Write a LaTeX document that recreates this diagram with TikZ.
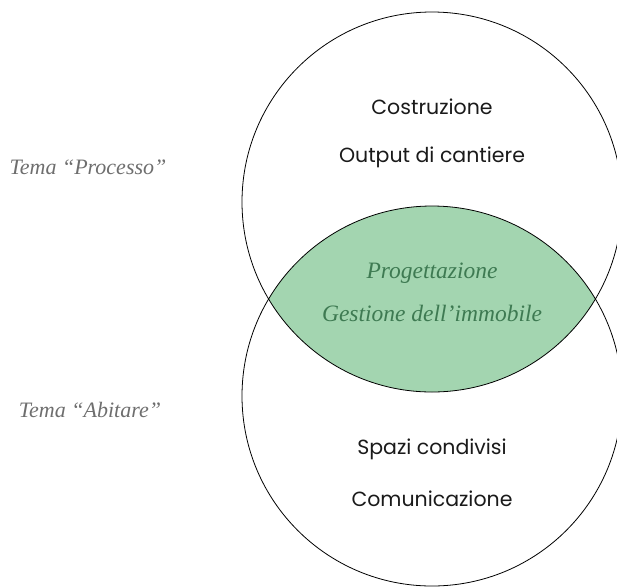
\documentclass[tikz,border=0pt]{standalone}
\usepackage{fontspec}
\setmainfont{Liberation Serif}
\newfontfamily\labelsans{Poppins}
\definecolor{lensgreen}{HTML}{A3D5B0}
\definecolor{lenstext}{HTML}{3E7A52}
\definecolor{themegray}{HTML}{6E6E6E}
\definecolor{bodytext}{HTML}{1A1A1A}
\tikzset{
  x=1pt, y=-1pt,
  ring/.style={draw=black, line width=0.8pt},
  sanslabel/.style={font=\labelsans\fontsize{20.5}{22}\selectfont, text=bodytext, inner sep=0pt},
  lenslabel/.style={font=\itshape\fontsize{23.5}{26}\selectfont, text=lenstext, inner sep=0pt},
  themelabel/.style={font=\itshape\fontsize{22}{24}\selectfont, text=themegray, inner sep=0pt},
}
\begin{document}
\begin{tikzpicture}
\useasboundingbox (0,0) rectangle (617,587);
\coordinate (ctop) at (432,202);
\coordinate (cbot) at (432,396);
\begin{scope}
  \clip (ctop) circle[radius=190pt];
  \fill[lensgreen] (cbot) circle[radius=190pt];
\end{scope}
\draw[ring] (ctop) circle[radius=190pt];
\draw[ring] (cbot) circle[radius=190pt];
\node[sanslabel] (costr) at (432,107) {Costruzione};
\node[sanslabel] (output) at (432,157) {Output di cantiere};
\node[lenslabel] (prog) at (432,273) {Progettazione};
\node[lenslabel] (gest) at (432,313) {Gestione dell’immobile};
\node[sanslabel] (spazi) at (432,449) {Spazi condivisi};
\node[sanslabel] (comun) at (432,499) {Comunicazione};
\node[themelabel] (processo) at (88,167) {Tema “Processo”};
\node[themelabel] (abitare) at (90,410) {Tema “Abitare”};
\end{tikzpicture}
\end{document}
